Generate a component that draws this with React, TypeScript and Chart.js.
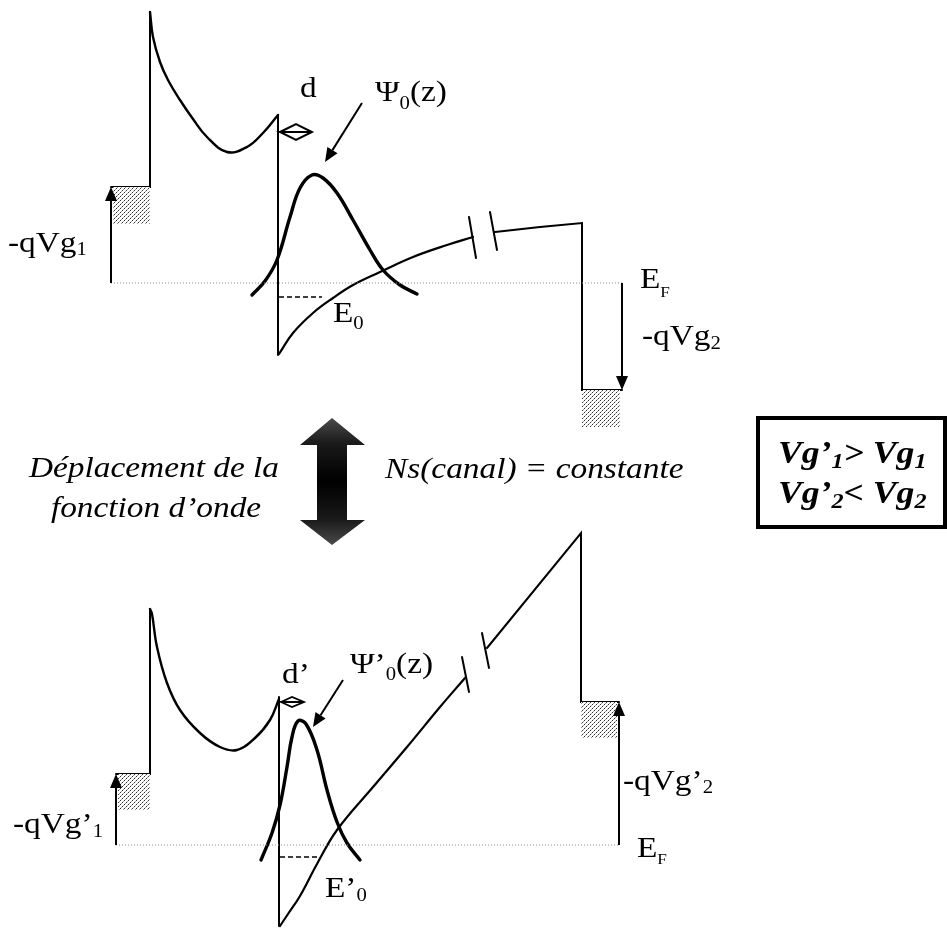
import { useEffect, useRef } from 'react';
import { Chart, registerables } from 'chart.js';

Chart.register(...registerables);

type XY = [number, number];
type Part = { t: string; sub?: boolean };

const W = 947;
const H = 929;
const SERIF = '"Liberation Serif", "Times New Roman", serif';

// ---------- upper band diagram (gate biases Vg1 / Vg2) ----------
const topGateLevel: XY[] = [[111, 187], [150, 187], [150, 12]];
const topBarrier: XY[] = [
  [150, 12], [153, 37], [160, 62], [168, 80], [180, 100], [193, 119], [207, 137],
  [227, 152], [247, 147], [263, 133], [278, 115],
];
const topWall: XY[] = [[278, 115], [278, 355]];
const topChannel: XY[] = [
  [279, 354], [293, 333], [313, 313], [333, 298], [353, 285], [380, 272],
  [413, 257], [447, 245], [473, 237],
];
const topBreakA: XY[] = [[469, 217], [476, 258]];
const topBreakB: XY[] = [[490, 212], [497, 250]];
const topDrain: XY[] = [[495, 232], [540, 227], [582, 223], [582, 390], [622, 390]];
const topWave: XY[] = [
  [252, 295], [265, 281], [277, 260], [290, 217], [300, 188], [312, 175], [323, 178],
  [337, 193], [353, 220], [370, 250], [383, 270], [400, 285], [417, 294],
];
const topE0: XY[] = [[279, 297], [322, 297]];
const topFermi: XY[] = [[111, 283], [622, 283]];
const topDistance: XY[] = [[280, 132], [296, 124], [312, 132], [296, 140], [280, 132], [312, 132]];

// ---------- lower band diagram (gate biases Vg'1 / Vg'2) ----------
const botGateLevel: XY[] = [[116, 774], [150, 774], [150, 609]];
const botBarrier: XY[] = [
  [150, 609], [152, 614], [157, 647], [167, 683], [180, 710], [200, 733], [220, 747],
  [237, 750], [255, 738], [270, 720], [279, 699],
];
const botWall: XY[] = [[279, 697], [279, 926]];
const botChannel: XY[] = [
  [280, 926], [288, 914], [300, 896], [317, 864], [337, 830], [373, 787],
  [407, 747], [440, 707], [465, 678],
];
const botBreakA: XY[] = [[462, 657], [469, 692]];
const botBreakB: XY[] = [[482, 633], [489, 668]];
const botDrain: XY[] = [[487, 648], [581, 533], [581, 702], [619, 702]];
const botWave: XY[] = [
  [261, 860], [272, 833], [280, 805], [287, 767], [292, 737], [298, 721], [306, 724],
  [317, 750], [327, 790], [337, 822], [347, 843], [360, 860],
];
const botE0: XY[] = [[280, 857], [318, 857]];
const botFermi: XY[] = [[116, 845], [619, 845]];
const botDistance: XY[] = [[281, 702], [292, 697], [304, 702], [292, 707], [281, 702], [304, 702]];

// arrows: [from, to], head at "to"
const arrowLines: [XY, XY][] = [
  [[111, 283], [111, 187]],
  [[622, 283], [622, 390]],
  [[362, 103], [325, 162]],
  [[116, 845], [116, 774]],
  [[619, 845], [619, 702]],
  [[343, 680], [313, 727]],
];

// stippled electron reservoirs: [x0, y0, x1, y1]
const reservoirs: [number, number, number, number][] = [
  [113, 187, 150, 224],
  [582, 390, 620, 427],
  [118, 774, 150, 810],
  [581, 702, 617, 738],
];

// big double arrow between both diagrams
const swapArrow: XY[] = [
  [332, 418], [365, 445], [347, 445], [347, 520], [365, 520], [332, 545],
  [300, 520], [317, 520], [317, 445], [300, 445],
];
const conditionBox: [number, number, number, number] = [758, 418, 945, 527];

// text content
const txtD: Part[] = [{ t: 'd' }];
const txtPsi: Part[] = [{ t: 'Ψ' }, { t: '0', sub: true }, { t: '(z)' }];
const txtEF: Part[] = [{ t: 'E' }, { t: 'F', sub: true }];
const txtVg2: Part[] = [{ t: '-qVg' }, { t: '2', sub: true }];
const txtVg1: Part[] = [{ t: '-qVg' }, { t: '1', sub: true }];
const txtE0: Part[] = [{ t: 'E' }, { t: '0', sub: true }];
const txtD2: Part[] = [{ t: 'd’' }];
const txtPsi2: Part[] = [{ t: 'Ψ’' }, { t: '0', sub: true }, { t: '(z)' }];
const txtE02: Part[] = [{ t: 'E’' }, { t: '0', sub: true }];
const txtVg1b: Part[] = [{ t: '-qVg’' }, { t: '1', sub: true }];
const txtVg2b: Part[] = [{ t: '-qVg’' }, { t: '2', sub: true }];
const txtMove1: Part[] = [{ t: 'Déplacement de la' }];
const txtMove2: Part[] = [{ t: 'fonction d’onde' }];
const txtNs: Part[] = [{ t: 'Ns(canal) = constante' }];
const txtCond1: Part[] = [{ t: 'Vg’' }, { t: '1', sub: true }, { t: '> Vg' }, { t: '1', sub: true }];
const txtCond2: Part[] = [{ t: 'Vg’' }, { t: '2', sub: true }, { t: '< Vg' }, { t: '2', sub: true }];

type Label = {
  parts: Part[];
  at: XY;
  size?: number;
  style?: string;
  align?: 'left' | 'center';
  subScale?: number;
  subDy?: number;
};

const labels: Label[] = [
  { parts: txtD, at: [300, 97] },
  { parts: txtPsi, at: [375, 101], subDy: 8 },
  { parts: txtEF, at: [640, 288], subScale: 0.5, subDy: 9 },
  { parts: txtVg2, at: [642, 345], subDy: 4 },
  { parts: txtVg1, at: [8, 252], subDy: 3 },
  { parts: txtE0, at: [333, 322], subDy: 7 },
  { parts: txtD2, at: [282, 683] },
  { parts: txtPsi2, at: [350, 673], subDy: 7 },
  { parts: txtE02, at: [325, 897], subDy: 4 },
  { parts: txtVg1b, at: [13, 833], subDy: 4 },
  { parts: txtVg2b, at: [623, 790], subDy: 3 },
  { parts: txtEF, at: [637, 857], subScale: 0.5, subDy: 7 },
  { parts: txtMove1, at: [154, 477], style: 'italic', align: 'center' },
  { parts: txtMove2, at: [156, 517], style: 'italic', align: 'center' },
  { parts: txtNs, at: [385, 478], style: 'italic' },
  { parts: txtCond1, at: [778, 463], size: 31, style: 'italic bold', subScale: 0.68, subDy: 5 },
  { parts: txtCond2, at: [778, 503], size: 31, style: 'italic bold', subScale: 0.68, subDy: 5 },
];

const toPts = (pts: XY[]) => pts.map(([x, y]) => ({ x, y }));

function line(pts: XY[], width: number, extra: Record<string, unknown> = {}) {
  return {
    data: toPts(pts),
    showLine: true,
    borderColor: '#000',
    borderWidth: width,
    pointRadius: 0,
    fill: false,
    tension: 0,
    borderCapStyle: 'round',
    borderJoinStyle: 'miter',
    ...extra,
  };
}

const smooth = { tension: 0.4 };
const fermiStyle = { borderColor: '#8a8a8a', borderDash: [1, 2], borderCapStyle: 'butt' };
const dashStyle = { borderDash: [5, 3], borderCapStyle: 'butt' };

function drawRich(ctx: CanvasRenderingContext2D, l: Label, x: number, y: number) {
  const size = l.size ?? 29;
  const style = l.style ?? '';
  const subScale = l.subScale ?? 0.62;
  const subDy = l.subDy ?? 5;
  const stretch = 1.15;
  const fMain = `${style} ${size}px ${SERIF}`;
  const fSub = `${style} ${Math.round(size * subScale)}px ${SERIF}`;
  let total = 0;
  for (const p of l.parts) {
    ctx.font = p.sub ? fSub : fMain;
    total += ctx.measureText(p.t).width;
  }
  ctx.save();
  ctx.translate(x, y);
  ctx.scale(stretch, 1);
  ctx.fillStyle = '#000';
  ctx.textAlign = 'left';
  ctx.textBaseline = 'alphabetic';
  let cx = l.align === 'center' ? -total / 2 : 0;
  for (const p of l.parts) {
    ctx.font = p.sub ? fSub : fMain;
    ctx.fillText(p.t, cx, p.sub ? subDy : 0);
    cx += ctx.measureText(p.t).width;
  }
  ctx.restore();
}

const extrasPlugin = {
  id: 'bandExtras',
  afterDatasetsDraw(chart: any) {
    const ctx: CanvasRenderingContext2D = chart.ctx;
    const sx = chart.scales.x;
    const sy = chart.scales.y;
    const px = (v: number) => sx.getPixelForValue(v);
    const py = (v: number) => sy.getPixelForValue(v);

    // stippled reservoirs
    const tile = document.createElement('canvas');
    tile.width = 4;
    tile.height = 4;
    const tc = tile.getContext('2d')!;
    tc.fillStyle = '#ffffff';
    tc.fillRect(0, 0, 4, 4);
    tc.fillStyle = '#333333';
    tc.fillRect(0, 0, 1, 1);
    tc.fillRect(2, 2, 1, 1);
    tc.fillStyle = '#9a9a9a';
    tc.fillRect(1, 3, 1, 1);
    tc.fillRect(3, 1, 1, 1);
    const pattern = ctx.createPattern(tile, 'repeat');
    ctx.save();
    if (pattern) ctx.fillStyle = pattern;
    for (const [x0, y0, x1, y1] of reservoirs) {
      ctx.fillRect(px(x0), py(y0), px(x1) - px(x0), py(y1) - py(y0));
    }
    ctx.restore();

    // arrows
    ctx.save();
    ctx.strokeStyle = '#000';
    ctx.fillStyle = '#000';
    ctx.lineWidth = 2;
    for (const [[x0, y0], [x1, y1]] of arrowLines) {
      const ax = px(x0), ay = py(y0), bx = px(x1), by = py(y1);
      const ang = Math.atan2(by - ay, bx - ax);
      const len = 14, half = 6;
      const hx = bx - len * Math.cos(ang), hy = by - len * Math.sin(ang);
      ctx.beginPath();
      ctx.moveTo(ax, ay);
      ctx.lineTo(hx, hy);
      ctx.stroke();
      ctx.beginPath();
      ctx.moveTo(bx, by);
      ctx.lineTo(hx + half * Math.sin(ang), hy - half * Math.cos(ang));
      ctx.lineTo(hx - half * Math.sin(ang), hy + half * Math.cos(ang));
      ctx.closePath();
      ctx.fill();
    }
    ctx.restore();

    // big double arrow
    ctx.save();
    const g = ctx.createLinearGradient(0, py(418), 0, py(545));
    g.addColorStop(0, '#4a4a4a');
    g.addColorStop(0.2, '#1a1a1a');
    g.addColorStop(0.5, '#000');
    g.addColorStop(0.8, '#1a1a1a');
    g.addColorStop(1, '#4a4a4a');
    ctx.fillStyle = g;
    ctx.beginPath();
    swapArrow.forEach(([x, y], i) => (i ? ctx.lineTo(px(x), py(y)) : ctx.moveTo(px(x), py(y))));
    ctx.closePath();
    ctx.fill();
    ctx.restore();

    // condition box
    ctx.save();
    ctx.strokeStyle = '#000';
    ctx.lineWidth = 4;
    const [bx0, by0, bx1, by1] = conditionBox;
    ctx.strokeRect(px(bx0), py(by0), px(bx1) - px(bx0), py(by1) - py(by0));
    ctx.restore();

    // labels
    for (const l of labels) drawRich(ctx, l, px(l.at[0]), py(l.at[1]));
  },
};

export default function App() {
  const ref = useRef<HTMLCanvasElement | null>(null);

  useEffect(() => {
    if (!ref.current) return;
    const chart = new Chart(ref.current, {
      type: 'scatter',
      data: {
        datasets: [
          line(topFermi, 1, fermiStyle),
          line(botFermi, 1, fermiStyle),
          line(topGateLevel, 2),
          line(topBarrier, 2.4, smooth),
          line(topWall, 2),
          line(topChannel, 2.2, smooth),
          line(topBreakA, 2),
          line(topBreakB, 2),
          line(topDrain, 2),
          line(topWave, 3.4, smooth),
          line(topE0, 1.6, dashStyle),
          line(topDistance, 2),
          line(botGateLevel, 2),
          line(botBarrier, 2.4, smooth),
          line(botWall, 2),
          line(botChannel, 2.2, smooth),
          line(botBreakA, 2),
          line(botBreakB, 2),
          line(botDrain, 2),
          line(botWave, 3.4, smooth),
          line(botE0, 1.6, dashStyle),
          line(botDistance, 1.8),
        ] as any,
      },
      options: {
        responsive: false,
        maintainAspectRatio: false,
        animation: false,
        layout: { padding: 0 },
        events: [],
        scales: {
          x: { type: 'linear', min: 0, max: W, display: false },
          y: { type: 'linear', min: 0, max: H, reverse: true, display: false },
        },
        plugins: {
          legend: { display: false },
          tooltip: { enabled: false },
        },
      },
      plugins: [extrasPlugin],
    });
    return () => chart.destroy();
  }, []);

  return (
    <div style={{ position: 'absolute', left: 0, top: 0, width: W, height: H, background: '#fff' }}>
      <canvas ref={ref} width={W} height={H} style={{ display: 'block' }} />
    </div>
  );
}
